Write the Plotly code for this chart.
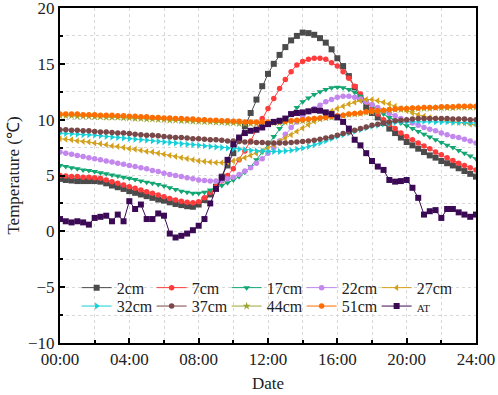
import plotly.graph_objects as go

# time in hours, 20-minute steps
hours = [k / 3 for k in range(73)]

t_2cm = [4.7, 4.6, 4.55, 4.5, 4.5, 4.5, 4.5, 4.45, 4.3, 4.1, 3.95, 3.8, 3.6, 3.45, 3.3, 3.15, 3.0, 2.85, 2.75, 2.6, 2.45, 2.35, 2.25, 2.2,
         2.4, 2.8, 3.3, 4.0, 4.9, 5.9, 7.0, 8.2, 9.4, 10.6, 11.8, 13.0, 14.1, 15.0, 15.8, 16.5, 17.1, 17.5, 17.8, 17.75, 17.6, 17.3,
         16.9, 16.3, 15.5, 14.8, 13.9, 12.9, 11.9, 11.1, 10.6, 10.2, 9.7, 9.2, 8.8, 8.4, 8.0, 7.7, 7.4, 7.1, 6.8, 6.6, 6.3, 6.1,
         5.9, 5.65, 5.4, 5.15, 4.9]
t_7cm = [5.0, 4.95, 4.9, 4.9, 4.85, 4.85, 4.8, 4.75, 4.6, 4.45, 4.3, 4.15, 4.0, 3.85, 3.7, 3.55, 3.4, 3.25, 3.1, 2.95, 2.8, 2.7, 2.6, 2.55,
         2.65, 3.0, 3.5, 4.0, 4.5, 5.0, 5.6, 6.4, 7.2, 8.1, 9.1, 10.1, 11.0, 11.9, 12.8, 13.6, 14.3, 14.9, 15.2, 15.4, 15.5, 15.5,
         15.4, 15.1, 14.8, 14.3, 13.7, 13.0, 12.3, 11.6, 11.0, 10.5, 10.0, 9.6, 9.2, 8.8, 8.5, 8.2, 7.9, 7.65, 7.4, 7.1, 6.85, 6.6,
         6.35, 6.1, 5.9, 5.7, 5.5]
t_17cm = [5.9, 5.8, 5.7, 5.6, 5.5, 5.45, 5.35, 5.25, 5.15, 5.05, 4.95, 4.85, 4.75, 4.65, 4.5, 4.4, 4.3, 4.2, 4.05, 3.9, 3.75, 3.6, 3.5, 3.4,
          3.4, 3.5, 3.7, 3.9, 4.1, 4.35, 4.6, 4.9, 5.3, 5.8, 6.4, 7.1, 7.8, 8.5, 9.2, 9.9, 10.5, 11.1, 11.6, 11.95, 12.25, 12.5,
          12.7, 12.85, 12.9, 12.85, 12.7, 12.45, 12.1, 11.7, 11.3, 10.9, 10.5, 10.2, 9.95, 9.7, 9.45, 9.2, 8.95, 8.7, 8.45, 8.2,
          7.95, 7.7, 7.5, 7.25, 7.0, 6.75, 6.5]
t_22cm = [7.1, 7.0, 6.9, 6.8, 6.7, 6.6, 6.5, 6.4, 6.3, 6.2, 6.1, 6.0, 5.9, 5.8, 5.7, 5.6, 5.45, 5.35, 5.2, 5.1, 5.0, 4.9, 4.8, 4.7,
          4.6, 4.55, 4.5, 4.5, 4.55, 4.7, 4.85, 5.1, 5.4, 5.7, 6.1, 6.5, 7.0, 7.5, 8.1, 8.7, 9.3, 9.8, 10.3, 10.7, 11.0, 11.3,
          11.6, 11.8, 12.0, 12.1, 12.1, 12.0, 11.85, 11.6, 11.35, 11.1, 10.8, 10.55, 10.35, 10.1, 9.9, 9.7, 9.5, 9.3, 9.15, 9.0,
          8.8, 8.65, 8.5, 8.4, 8.25, 8.1, 7.9]
t_27cm = [8.3, 8.25, 8.2, 8.1, 8.05, 8.0, 7.9, 7.85, 7.75, 7.65, 7.6, 7.5, 7.4, 7.35, 7.25, 7.15, 7.1, 7.0, 6.9, 6.8, 6.7, 6.6, 6.5, 6.4,
          6.3, 6.25, 6.2, 6.15, 6.15, 6.2, 6.3, 6.45, 6.6, 6.8, 7.0, 7.2, 7.45, 7.75, 8.05, 8.35, 8.65, 8.95, 9.25, 9.55, 9.85, 10.15,
          10.45, 10.75, 11.0, 11.2, 11.4, 11.55, 11.7, 11.8, 11.8, 11.7, 11.55, 11.4, 11.2, 11.0, 10.8, 10.6, 10.45, 10.3, 10.2, 10.1,
          10.0, 9.9, 9.8, 9.75, 9.7, 9.6, 9.5]
t_32cm = [8.8, 8.75, 8.75, 8.7, 8.65, 8.65, 8.6, 8.55, 8.5, 8.45, 8.4, 8.35, 8.3, 8.25, 8.2, 8.15, 8.1, 8.05, 8.0, 7.95, 7.9, 7.85, 7.8, 7.75,
          7.7, 7.65, 7.6, 7.55, 7.5, 7.45, 7.4, 7.35, 7.3, 7.25, 7.2, 7.2, 7.15, 7.15, 7.15, 7.2, 7.25, 7.35, 7.45, 7.6, 7.75, 7.9,
          8.1, 8.3, 8.5, 8.65, 8.8, 8.95, 9.1, 9.25, 9.4, 9.5, 9.6, 9.7, 9.75, 9.8, 9.8, 9.85, 9.85, 9.85, 9.85, 9.8,
          9.8, 9.8, 9.75, 9.75, 9.75, 9.7, 9.7]
t_37cm = [9.1, 9.1, 9.05, 9.05, 9.0, 9.0, 8.95, 8.9, 8.9, 8.85, 8.8, 8.8, 8.75, 8.7, 8.65, 8.6, 8.6, 8.55, 8.5, 8.45, 8.4, 8.4, 8.35, 8.3,
          8.3, 8.25, 8.2, 8.2, 8.15, 8.1, 8.1, 8.05, 8.0, 8.0, 7.95, 7.95, 7.9, 7.9, 7.9, 7.9, 7.95, 8.0, 8.05, 8.1, 8.15, 8.25,
          8.35, 8.45, 8.6, 8.75, 8.9, 9.05, 9.2, 9.35, 9.5, 9.6, 9.7, 9.8, 9.9, 9.95, 10.0, 10.05, 10.1, 10.1, 10.1, 10.1,
          10.1, 10.1, 10.05, 10.05, 10.05, 10.0, 10.0]
t_44cm = [10.35, 10.35, 10.35, 10.3, 10.3, 10.3, 10.25, 10.25, 10.2, 10.2, 10.2, 10.15, 10.15, 10.1, 10.1, 10.05, 10.05, 10.0, 10.0, 9.95,
          9.95, 9.9, 9.9, 9.85, 9.85, 9.8, 9.8, 9.75, 9.75, 9.7, 9.7, 9.65, 9.65, 9.65, 9.65, 9.65, 9.65, 9.7, 9.7, 9.75, 9.8, 9.85,
          9.9, 9.95, 10.0, 10.05, 10.15, 10.2, 10.3, 10.35, 10.45, 10.5, 10.55, 10.65, 10.7, 10.75, 10.8, 10.85, 10.9, 10.9, 10.95,
          10.95, 11.0, 11.0, 11.0, 11.05, 11.05, 11.05, 11.05, 11.1, 11.1, 11.1, 11.1]
t_51cm = [10.5, 10.5, 10.5, 10.5, 10.45, 10.45, 10.45, 10.4, 10.4, 10.4, 10.35, 10.35, 10.3, 10.3, 10.25, 10.25, 10.2, 10.2, 10.15, 10.15,
          10.1, 10.1, 10.05, 10.05, 10.0, 10.0, 9.95, 9.95, 9.9, 9.9, 9.85, 9.85, 9.8, 9.8, 9.8, 9.8, 9.8, 9.8, 9.85, 9.85, 9.9, 9.95,
          10.0, 10.05, 10.1, 10.15, 10.2, 10.3, 10.35, 10.4, 10.5, 10.55, 10.6, 10.7, 10.75, 10.8, 10.85, 10.9, 10.95, 11.0, 11.0,
          11.05, 11.05, 11.1, 11.1, 11.1, 11.15, 11.15, 11.15, 11.2, 11.2, 11.2, 11.2]
t_AT = [1.1, 0.9, 0.8, 0.9, 0.8, 0.6, 1.2, 1.3, 1.4, 0.9, 1.5, 0.9, 2.7, 2.0, 2.4, 1.1, 1.1, 1.6, 1.4, -0.2, -0.55, -0.4, -0.2, 0.1,
        0.5, 1.1, 2.5, 3.8, 4.8, 6.4, 7.8, 8.4, 8.8, 9.0, 9.1, 9.3, 9.6, 9.8, 9.9, 10.1, 10.5, 10.6, 10.65, 10.75, 10.85, 10.8,
        10.65, 10.5, 10.2, 9.8, 9.2, 8.2, 7.7, 7.0, 6.3, 5.8, 5.5, 4.6, 4.45, 4.5, 4.6, 3.9, 3.0, 1.5, 1.8, 1.9, 1.2, 2.0,
        2.0, 1.7, 1.5, 1.3, 1.5]

names = ["2cm", "7cm", "17cm", "22cm", "27cm", "32cm", "37cm", "44cm", "51cm",
         "<span style='font-size:11px'>AT</span>"]
series = [t_2cm, t_7cm, t_17cm, t_22cm, t_27cm, t_32cm, t_37cm, t_44cm, t_51cm, t_AT]
colors = ["#4b4b4b", "#ff3c3c", "#12a672", "#c387ee", "#d4a11c", "#16cfd8", "#7a4848", "#9ea632", "#ff6c00", "#3c0a55"]
symbols = ["square", "circle", "triangle-down", "circle", "triangle-left", "triangle-right", "circle", "star", "circle", "square"]
sizes = [6, 5.5, 6, 5.5, 6, 6, 5.5, 6, 5.5, 6]

x_tickvals = [0, 4, 8, 12, 16, 20, 24]
x_ticktext = ["00:00", "04:00", "08:00", "12:00", "16:00", "20:00", "24:00"]
y_tickvals = [-10, -5, 0, 5, 10, 15, 20]

fig = go.Figure()
for i, (nm, ys) in enumerate(zip(names, series)):
    fig.add_trace(go.Scatter(
        x=hours, y=ys, name=nm, mode="lines+markers",
        line=dict(color=colors[i], width=1),
        marker=dict(symbol=symbols[i], size=sizes[i], color=colors[i]),
        legend="legend" if i < 5 else "legend2",
    ))

font_family = "Times New Roman, Liberation Serif, serif"
leg_common = dict(orientation="h", xanchor="left", yanchor="middle", x=0.04,
                  bgcolor="rgba(0,0,0,0)", entrywidth=30, entrywidthmode="pixels",
                  font=dict(family=font_family, size=16, color="#222"),
                  tracegroupgap=0, itemwidth=30)

fig.update_layout(
    width=498, height=395,
    margin=dict(l=60, r=22, t=8, b=52),
    paper_bgcolor="white", plot_bgcolor="white",
    font=dict(family=font_family, size=16, color="#222"),
    legend=dict(y=0.165, **leg_common),
    legend2=dict(y=0.11, **leg_common),
    xaxis=dict(
        range=[0, 24], tickmode="array", tickvals=x_tickvals, ticktext=x_ticktext,
        automargin=False, ticklabeloverflow="allow",
        showline=True, linecolor="black", linewidth=2, mirror=True,
        ticks="inside", ticklen=5, tickwidth=2, tickcolor="black",
        showgrid=True, gridcolor="#d8d8d8", griddash="dot", gridwidth=1,
        zeroline=False,
        minor=dict(dtick=2, ticks="inside", ticklen=3, tickcolor="black", tickwidth=1.5,
                   showgrid=True, gridcolor="#d8d8d8", griddash="dot"),
        title=dict(text="Date", font=dict(size=17, family=font_family), standoff=9),
        tickfont=dict(size=17, family=font_family),
        ticklabelstandoff=0,
    ),
    yaxis=dict(
        range=[-10, 20], tickmode="array", tickvals=y_tickvals,
        automargin=False, ticklabeloverflow="allow",
        showline=True, linecolor="black", linewidth=2, mirror=True,
        ticks="inside", ticklen=5, tickwidth=2, tickcolor="black",
        showgrid=True, gridcolor="#d8d8d8", griddash="dot", gridwidth=1,
        zeroline=False,
        minor=dict(dtick=2.5, ticks="inside", ticklen=3, tickcolor="black", tickwidth=1.5,
                   showgrid=True, gridcolor="#d8d8d8", griddash="dot"),
        title=dict(text="Temperature (℃)", font=dict(size=17, family=font_family), standoff=4),
        tickfont=dict(size=17, family=font_family),
    ),
)

fig.write_html("out.html", config={"displayModeBar": False},
               post_script="document.body.style.margin='0';")
